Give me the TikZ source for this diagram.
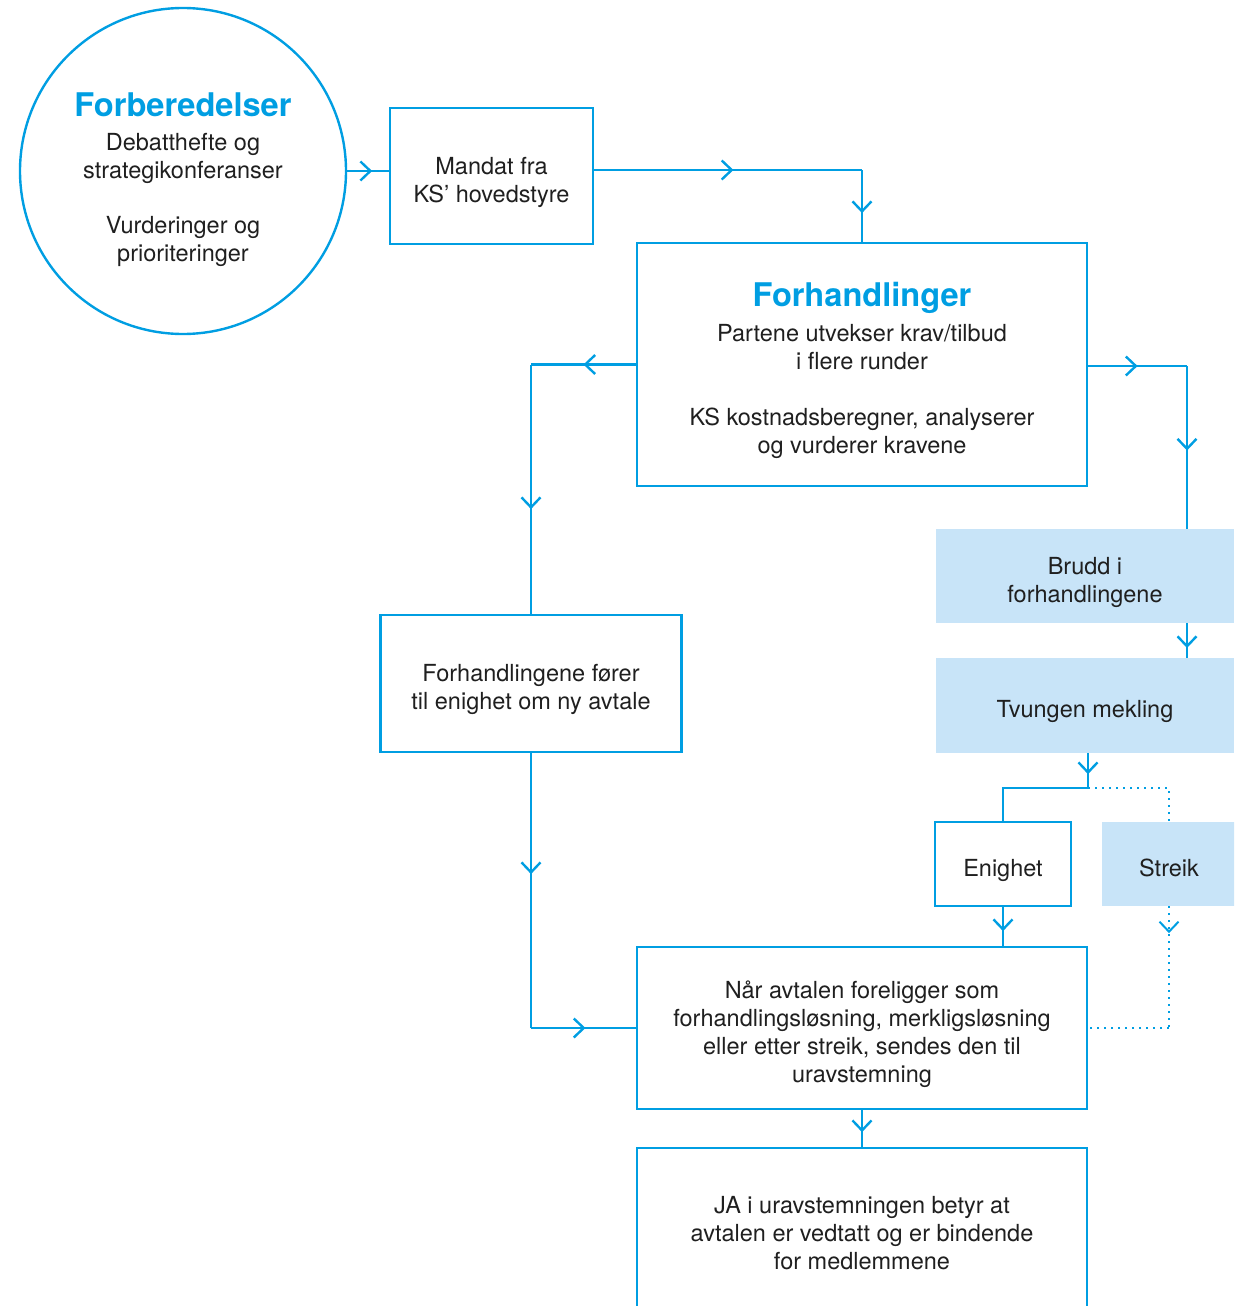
\documentclass[tikz,border=0pt]{standalone}
\usepackage{fontspec}
\setmainfont{TeX Gyre Heros}
\usetikzlibrary{arrows.meta, decorations.markings}
\definecolor{ksblue}{RGB}{0,158,226}
\definecolor{kslight}{RGB}{200,228,248}
\newcommand{\kstitle}[1]{{\fontsize{32.6}{36}\selectfont\bfseries\color{ksblue}#1}}
\newcommand{\lowr}[1][30pt]{\rule[-6pt]{0pt}{\dimexpr#1+6pt\relax}}

\begin{document}
\begin{tikzpicture}[x=1pt,y=-1pt,thick,
  every node/.style={font=\fontsize{23.5}{28}\selectfont,text=black!88,align=center},
  box/.style={draw=ksblue,line width=2.4pt,rectangle,inner sep=0pt},
  soft box/.style={fill=kslight,rectangle,inner sep=0pt},
  flow/.style={draw=ksblue,line width=2.4pt},
  dotflow/.style={draw=ksblue,line width=2pt,dash pattern=on 2pt off 5pt},
  mid arrow/.style={postaction={decorate},decoration={markings,
      mark=at position #1 with {\arrow{Straight Barb[length=10pt,width=19pt]}}}},
  mid arrow/.default=0.55]
  \useasboundingbox (0,0) rectangle (1234,1306);
  \clip (0,0) rectangle (1234,1306);

  \node[draw=ksblue,line width=2.4pt,circle,minimum size=326pt,inner sep=0pt] (circ) at (183,171)
    {\lowr[41pt]\kstitle{Forberedelser}\\[6pt]Debatthefte og\\strategikonferanser\\[27pt]Vurderinger og\\prioriteringer};
  \node[box,minimum width=203pt,minimum height=136pt] (mandat) at (491.5,176) {\lowr Mandat fra\\KS’ hovedstyre};
  \node[box,minimum width=450pt,minimum height=243pt] (forh) at (862,364.5)
    {\lowr[37pt]\kstitle{Forhandlinger}\\[7pt]Partene utvekser krav/tilbud\\i flere runder\\[28pt]KS kostnadsberegner, analyserer\\og vurderer kravene};
  \node[box,minimum width=301pt,minimum height=137pt] (enig) at (531,683.5) {\lowr Forhandlingene fører\\til enighet om ny avtale};
  \node[soft box,minimum width=298pt,minimum height=94pt] (brudd) at (1085,576) {\lowr Brudd i\\forhandlingene};
  \node[soft box,minimum width=298pt,minimum height=95pt] (tvungen) at (1085,705.5) {\lowr Tvungen mekling};
  \node[box,minimum width=136pt,minimum height=84pt] (enighet) at (1003,864) {\lowr Enighet};
  \node[soft box,minimum width=134pt,minimum height=84pt] (streik) at (1169,864) {\lowr Streik};
  \node[box,minimum width=450pt,minimum height=162pt] (naar) at (862,1028)
    {\lowr Når avtalen foreligger som\\forhandlingsløsning, merkligsløsning\\eller etter streik, sendes den til\\uravstemning};
  \node[box,minimum width=450pt,minimum height=170pt] (ja) at (862,1233)
    {JA i uravstemningen betyr at\\avtalen er vedtatt og er bindende\\for medlemmene};

  \coordinate (k1) at (862,170);
  \coordinate (k3) at (1187,366);
  \coordinate (k4) at (1088,788);

  \draw[flow,mid arrow=0.6] (circ.east) -- (circ.east -| mandat.west);
  \draw[flow,mid arrow=0.52] (mandat.east |- k1) -- (k1);
  \draw[flow,mid arrow=0.6] (k1) -- (forh.north);
  \draw[flow,mid arrow=0.5] (forh.west) -- (forh.west -| enig.north);
  \draw[flow,mid arrow=0.58] (forh.west -| enig.north) -- (enig.north);
  \draw[flow,mid arrow=0.5] (forh.east |- k3) -- (k3);
  \draw[flow,mid arrow=0.52] (k3) -- (k3 |- brudd.north);
  \draw[flow,mid arrow=0.72] (k3 |- brudd.south) -- (k3 |- tvungen.north);
  \draw[flow,mid arrow=0.6] (tvungen.south -| k4) -- (k4);
  \draw[flow] (k4) -| (enighet.north);
  \draw[dotflow] (k4) -| (streik.north);
  \draw[flow,mid arrow=0.62] (enighet.south) -- (enighet.south |- naar.north);
  \draw[dotflow,mid arrow=0.22] (streik.south) -- (streik.south |- naar.east);
  \draw[dotflow] (streik.south |- naar.east) -- (naar.east);
  \draw[flow,mid arrow=0.44] (enig.south) -- (enig.south |- naar.west);
  \draw[flow,mid arrow=0.52] (enig.south |- naar.west) -- (naar.west);
  \draw[flow,mid arrow=0.6] (naar.south) -- (ja.north);
\end{tikzpicture}
\end{document}
